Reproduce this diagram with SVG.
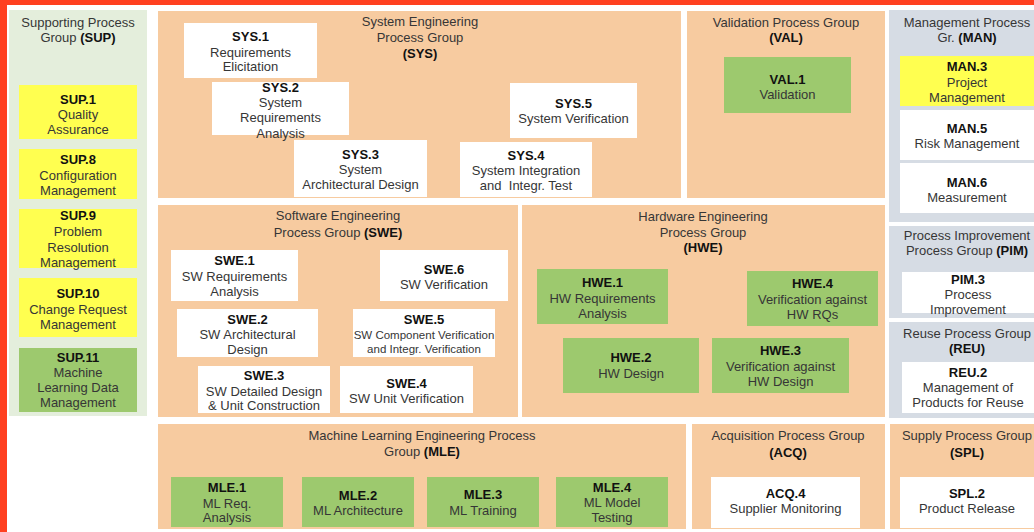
<svg xmlns="http://www.w3.org/2000/svg" width="1034" height="532" viewBox="0 0 1034 532">
<style>
text{font-family:"Liberation Sans",Arial,sans-serif;font-size:13px;text-anchor:middle;dominant-baseline:central;fill:#363636}
.b{font-weight:bold;fill:#111}
.s{font-size:11.5px}
.peach{fill:#f7cba0}
.blue{fill:#d6dce4}
.sup{fill:#e4eedc}
.y{fill:#ffff50}
.g{fill:#9dc96e}
.w{fill:#ffffff}
</style>
<rect x="0" y="0" width="1034" height="532" fill="#ffffff"/>
<rect x="0" y="0" width="7" height="532" fill="#ff4020"/>
<rect x="0" y="0" width="1034" height="5" fill="#ff4020"/>

<g id="panels">
<g id="grp-SUP"><rect class="sup" x="9" y="10" width="138" height="406"/>
<text x="78" y="22">Supporting Process</text><text x="78" y="37">Group <tspan font-weight="bold" fill="#111">(SUP)</tspan></text></g>
<g id="grp-SYS"><rect class="peach" x="158" y="11" width="523" height="187"/>
<text x="420" y="21">System Engineering</text><text x="420" y="37">Process Group</text><text class="b" x="420" y="53">(SYS)</text></g>
<g id="grp-VAL"><rect class="peach" x="687" y="11" width="198" height="187"/>
<text x="786" y="22">Validation Process Group</text><text class="b" x="786" y="37">(VAL)</text></g>
<g id="grp-MAN"><rect class="blue" x="889" y="10" width="145" height="212"/>
<text x="967" y="22">Management Process</text><text x="967" y="37">Gr. <tspan font-weight="bold" fill="#111">(MAN)</tspan></text></g>
<g id="grp-SWE"><rect class="peach" x="158" y="205" width="360" height="212"/>
<text x="338" y="215">Software Engineering</text><text x="338" y="232">Process Group <tspan font-weight="bold" fill="#111">(SWE)</tspan></text></g>
<g id="grp-HWE"><rect class="peach" x="522" y="205" width="363" height="212"/>
<text x="703" y="216">Hardware Engineering</text><text x="703" y="232">Process Group</text><text class="b" x="703" y="247">(HWE)</text></g>
<g id="grp-PIM"><rect class="blue" x="889" y="226" width="145" height="92"/>
<text x="967" y="235">Process Improvement</text><text x="967" y="250">Process Group <tspan font-weight="bold" fill="#111">(PIM)</tspan></text></g>
<g id="grp-REU"><rect class="blue" x="889" y="322" width="145" height="96"/>
<text x="967" y="333">Reuse Process Group</text><text class="b" x="967" y="348">(REU)</text></g>
<g id="grp-MLE"><rect class="peach" x="158" y="424" width="528" height="105"/>
<text x="422" y="435">Machine Learning Engineering Process</text><text x="422" y="451">Group <tspan font-weight="bold" fill="#111">(MLE)</tspan></text></g>
<g id="grp-ACQ"><rect class="peach" x="692" y="424" width="193" height="105"/>
<text x="788" y="435">Acquisition Process Group</text><text class="b" x="788" y="452">(ACQ)</text></g>
<g id="grp-SPL"><rect class="peach" x="890" y="424" width="144" height="105"/>
<text x="967" y="435">Supply Process Group</text><text class="b" x="967" y="452">(SPL)</text></g>
</g>

<g id="connectors"></g>

<g id="SUP1"><rect class="y" x="19" y="85" width="118" height="54"/><text class="b" x="78" y="99">SUP.1</text><text x="78" y="114">Quality</text><text x="78" y="129">Assurance</text></g>
<g id="SUP8"><rect class="y" x="19" y="149" width="118" height="50"/><text class="b" x="78" y="159">SUP.8</text><text x="78" y="175">Configuration</text><text x="78" y="190">Management</text></g>
<g id="SUP9"><rect class="y" x="19" y="209" width="118" height="59"/><text class="b" x="78" y="215">SUP.9</text><text x="78" y="231">Problem</text><text x="78" y="247">Resolution</text><text x="78" y="262">Management</text></g>
<g id="SUP10"><rect class="y" x="19" y="278" width="118" height="59"/><text class="b" x="78" y="293">SUP.10</text><text x="78" y="309">Change Request</text><text x="78" y="324">Management</text></g>
<g id="SUP11"><rect class="g" x="19" y="348" width="118" height="64"/><text class="b" x="78" y="357">SUP.11</text><text x="78" y="372">Machine</text><text x="78" y="387">Learning Data</text><text x="78" y="402">Management</text></g>

<g id="SYS1"><rect class="w" x="184" y="23" width="133" height="55"/><text class="b" x="250.5" y="36">SYS.1</text><text x="250.5" y="52">Requirements</text><text x="250.5" y="66">Elicitation</text></g>
<g id="SYS2"><rect class="w" x="212" y="82" width="137" height="53"/><text class="b" x="280.5" y="87">SYS.2</text><text x="280.5" y="102">System</text><text x="280.5" y="117">Requirements</text><text x="280.5" y="133">Analysis</text></g>
<g id="SYS3"><rect class="w" x="294" y="140" width="133" height="57"/><text class="b" x="360.5" y="154">SYS.3</text><text x="360.5" y="169">System</text><text x="360.5" y="184">Architectural Design</text></g>
<g id="SYS4"><rect class="w" x="460" y="142" width="132" height="55"/><text class="b" x="526" y="155">SYS.4</text><text x="526" y="170">System Integration</text><text x="526" y="185" xml:space="preserve">and  Integr. Test</text></g>
<g id="SYS5"><rect class="w" x="510" y="83" width="127" height="55"/><text class="b" x="573.5" y="103">SYS.5</text><text x="573.5" y="118">System Verification</text></g>

<g id="VAL1"><rect class="g" x="724" y="57" width="127" height="56"/><text class="b" x="787.5" y="79">VAL.1</text><text x="787.5" y="94">Validation</text></g>

<g id="MAN3"><rect class="y" x="900" y="56" width="134" height="50"/><text class="b" x="967" y="66">MAN.3</text><text x="967" y="82">Project</text><text x="967" y="97">Management</text></g>
<g id="MAN5"><rect class="w" x="900" y="110" width="134" height="50"/><text class="b" x="967" y="128">MAN.5</text><text x="967" y="143">Risk Management</text></g>
<g id="MAN6"><rect class="w" x="900" y="163" width="134" height="50"/><text class="b" x="967" y="182">MAN.6</text><text x="967" y="197">Measurement</text></g>

<g id="SWE1"><rect class="w" x="171" y="250" width="127" height="51"/><text class="b" x="234.5" y="260">SWE.1</text><text x="234.5" y="276">SW Requirements</text><text x="234.5" y="291">Analysis</text></g>
<g id="SWE6"><rect class="w" x="380" y="250" width="128" height="51"/><text class="b" x="444" y="269">SWE.6</text><text x="444" y="284">SW Verification</text></g>
<g id="SWE2"><rect class="w" x="177" y="309" width="141" height="48"/><text class="b" x="247.5" y="319">SWE.2</text><text x="247.5" y="334">SW Architectural</text><text x="247.5" y="349">Design</text></g>
<g id="SWE5"><rect class="w" x="353" y="309" width="142" height="48"/><text class="b" x="424" y="319">SWE.5</text><text class="s" x="424" y="335">SW Component Verification</text><text class="s" x="424" y="349">and Integr. Verification</text></g>
<g id="SWE3"><rect class="w" x="198" y="366" width="132" height="47"/><text class="b" x="264" y="375">SWE.3</text><text x="264" y="391">SW Detailed Design</text><text x="264" y="405">&amp; Unit Construction</text></g>
<g id="SWE4"><rect class="w" x="340" y="366" width="133" height="47"/><text class="b" x="406.5" y="383">SWE.4</text><text x="406.5" y="398">SW Unit Verification</text></g>

<g id="HWE1"><rect class="g" x="537" y="269" width="131" height="55"/><text class="b" x="602.5" y="282">HWE.1</text><text x="602.5" y="298">HW Requirements</text><text x="602.5" y="313">Analysis</text></g>
<g id="HWE4"><rect class="g" x="747" y="271" width="131" height="55"/><text class="b" x="812.5" y="283">HWE.4</text><text x="812.5" y="299">Verification against</text><text x="812.5" y="314">HW RQs</text></g>
<g id="HWE2"><rect class="g" x="563" y="338" width="136" height="55"/><text class="b" x="631" y="357">HWE.2</text><text x="631" y="373">HW Design</text></g>
<g id="HWE3"><rect class="g" x="712" y="338" width="137" height="55"/><text class="b" x="780.5" y="350">HWE.3</text><text x="780.5" y="366">Verification against</text><text x="780.5" y="381">HW Design</text></g>

<g id="PIM3"><rect class="w" x="902" y="272" width="132" height="41"/><text class="b" x="968" y="279">PIM.3</text><text x="968" y="294">Process</text><text x="968" y="309">Improvement</text></g>
<g id="REU2"><rect class="w" x="902" y="362" width="132" height="51"/><text class="b" x="968" y="372">REU.2</text><text x="968" y="387">Management of</text><text x="968" y="402">Products for Reuse</text></g>

<g id="MLE1"><rect class="g" x="171" y="477" width="112" height="50"/><text class="b" x="227" y="487">MLE.1</text><text x="227" y="503">ML Req.</text><text x="227" y="517">Analysis</text></g>
<g id="MLE2"><rect class="g" x="302" y="477" width="112" height="50"/><text class="b" x="358" y="495">MLE.2</text><text x="358" y="510">ML Architecture</text></g>
<g id="MLE3"><rect class="g" x="427" y="477" width="112" height="50"/><text class="b" x="483" y="494">MLE.3</text><text x="483" y="510">ML Training</text></g>
<g id="MLE4"><rect class="g" x="556" y="477" width="112" height="50"/><text class="b" x="612" y="487">MLE.4</text><text x="612" y="502">ML Model</text><text x="612" y="517">Testing</text></g>

<g id="ACQ4"><rect class="w" x="711" y="477" width="149" height="51"/><text class="b" x="785.5" y="493">ACQ.4</text><text x="785.5" y="508">Supplier Monitoring</text></g>
<g id="SPL2"><rect class="w" x="900" y="477" width="134" height="51"/><text class="b" x="967" y="493">SPL.2</text><text x="967" y="508">Product Release</text></g>
</svg>
